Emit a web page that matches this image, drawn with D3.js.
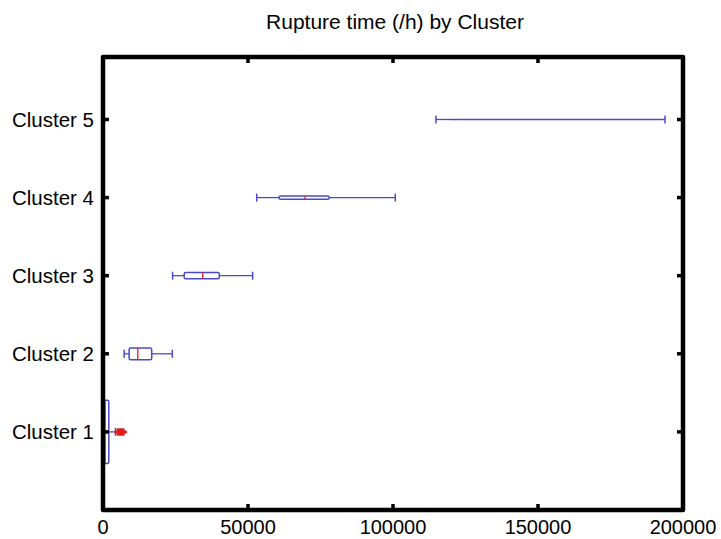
<!DOCTYPE html>
<html>
<head>
<meta charset="utf-8">
<script src="https://cdn.jsdelivr.net/npm/d3@7"></script>
<style>
  body { margin: 0; background: #fff; }
  svg text { font-family: "Liberation Sans", Arial, sans-serif; }
</style>
</head>
<body>
<div id="chart"></div>
<script>
// boxplot stats per cluster (rupture time, h)
const clusters = ['Cluster 1', 'Cluster 2', 'Cluster 3', 'Cluster 4', 'Cluster 5'];
const whiskerLow = [0, 7300, 24000, 53000, 114800];
const q1 = [0, 9000, 28000, 60700, 119700];
const median = [700, 12000, 34400, 69700, 135000];
const q3 = [2000, 16800, 40100, 78000, 151300];
const whiskerHigh = [4300, 23900, 51600, 100800, 193800];
// box thickness in category units, as it was drawn
const boxWidths = [0.81, 0.15, 0.08, 0.04, 0.005];
const outliers1 = [5100, 5500, 5900, 6300, 6700, 7050];
const xTicks = [0, 50000, 100000, 150000, 200000];

const W = 721, H = 539;
const margin = { left: 103, right: 38, top: 57, bottom: 29 };

const svg = d3.select('#chart').append('svg')
    .attr('width', W)
    .attr('height', H);

const x = d3.scaleLinear()
    .domain([0, 200000])
    .range([margin.left, W - margin.right]);

const y = d3.scaleLinear()
    .domain([0, 5.8])
    .range([H - margin.bottom, margin.top]);

const blue = '#4a4ac8';
const red = '#e02020';

const data = clusters.map((c, i) => ({
    name: c, pos: i + 1,
    lo: whiskerLow[i], q1: q1[i], med: median[i], q3: q3[i], hi: whiskerHigh[i],
    bw: boxWidths[i]
}));

const g = svg.append('g');

data.forEach(d => {
    const cy = y(d.pos);
    const half = (y(0) - y(d.bw)) / 2;
    const capHalf = 4;

    // whiskers
    g.append('line')
        .attr('x1', x(d.lo)).attr('x2', x(d.q1))
        .attr('y1', cy).attr('y2', cy)
        .style('stroke', blue).style('stroke-width', 1.3);
    g.append('line')
        .attr('x1', x(d.q3)).attr('x2', x(d.hi))
        .attr('y1', cy).attr('y2', cy)
        .style('stroke', blue).style('stroke-width', 1.3);
    [d.lo, d.hi].forEach(v => {
        g.append('line')
            .attr('x1', x(v)).attr('x2', x(v))
            .attr('y1', cy - capHalf).attr('y2', cy + capHalf)
            .style('stroke', blue).style('stroke-width', 1.5);
    });

    // box
    g.append('rect')
        .attr('x', x(d.q1))
        .attr('y', cy - half)
        .attr('width', x(d.q3) - x(d.q1))
        .attr('height', half * 2)
        .attr('rx', Math.min(1.5, half))
        .style('fill', 'none')
        .style('stroke', blue)
        .style('stroke-width', half < 1 ? 1.1 : 1.5);

    // median
    g.append('line')
        .attr('x1', x(d.med)).attr('x2', x(d.med))
        .attr('y1', cy - half).attr('y2', cy + half)
        .style('stroke', red).style('stroke-width', 1.3);
});

// outliers of cluster 1, drawn as '+'
outliers1.forEach(v => {
    const cx = x(v), cy = y(1);
    g.append('path')
        .attr('d', `M${cx - 3.5},${cy}H${cx + 3.5}M${cx},${cy - 3.5}V${cy + 3.5}`)
        .style('stroke', red).style('stroke-width', 2.5);
});

// frame
const x0 = margin.left, x1 = W - margin.right;
const y0 = margin.top, y1 = H - margin.bottom;
svg.append('rect')
    .attr('x', x0).attr('y', y0)
    .attr('width', x1 - x0).attr('height', y1 - y0)
    .style('fill', 'none')
    .style('stroke', '#000')
    .style('stroke-width', 4.5)
    .style('stroke-linejoin', 'round');

// inward ticks on all four sides
const tickLen = 6;
xTicks.slice(1, -1).forEach(t => {
    [[y1, -tickLen], [y0, tickLen]].forEach(([yy, dy]) => {
        svg.append('line')
            .attr('x1', x(t)).attr('x2', x(t))
            .attr('y1', yy).attr('y2', yy + dy)
            .style('stroke', '#000').style('stroke-width', 3.5);
    });
});
data.forEach(d => {
    [[x0, tickLen], [x1, -tickLen]].forEach(([xx, dx]) => {
        svg.append('line')
            .attr('x1', xx).attr('x2', xx + dx)
            .attr('y1', y(d.pos)).attr('y2', y(d.pos))
            .style('stroke', '#000').style('stroke-width', 3.5);
    });
});

// tick labels
svg.selectAll('.xlab')
    .data(xTicks)
    .join('text')
    .attr('class', 'xlab')
    .attr('x', d => x(d))
    .attr('y', H - 5)
    .attr('text-anchor', 'middle')
    .style('font-size', '20px')
    .text(d => d);

svg.selectAll('.ylab')
    .data(data)
    .join('text')
    .attr('class', 'ylab')
    .attr('x', x0 - 9)
    .attr('y', d => y(d.pos))
    .attr('dy', '0.35em')
    .attr('text-anchor', 'end')
    .style('font-size', '20.5px')
    .text(d => d.name);

// title
svg.append('text')
    .attr('x', (x0 + x1) / 2 + 2)
    .attr('y', 29)
    .attr('text-anchor', 'middle')
    .style('font-size', '21px')
    .text('Rupture time (/h) by Cluster');
</script>
</body>
</html>
